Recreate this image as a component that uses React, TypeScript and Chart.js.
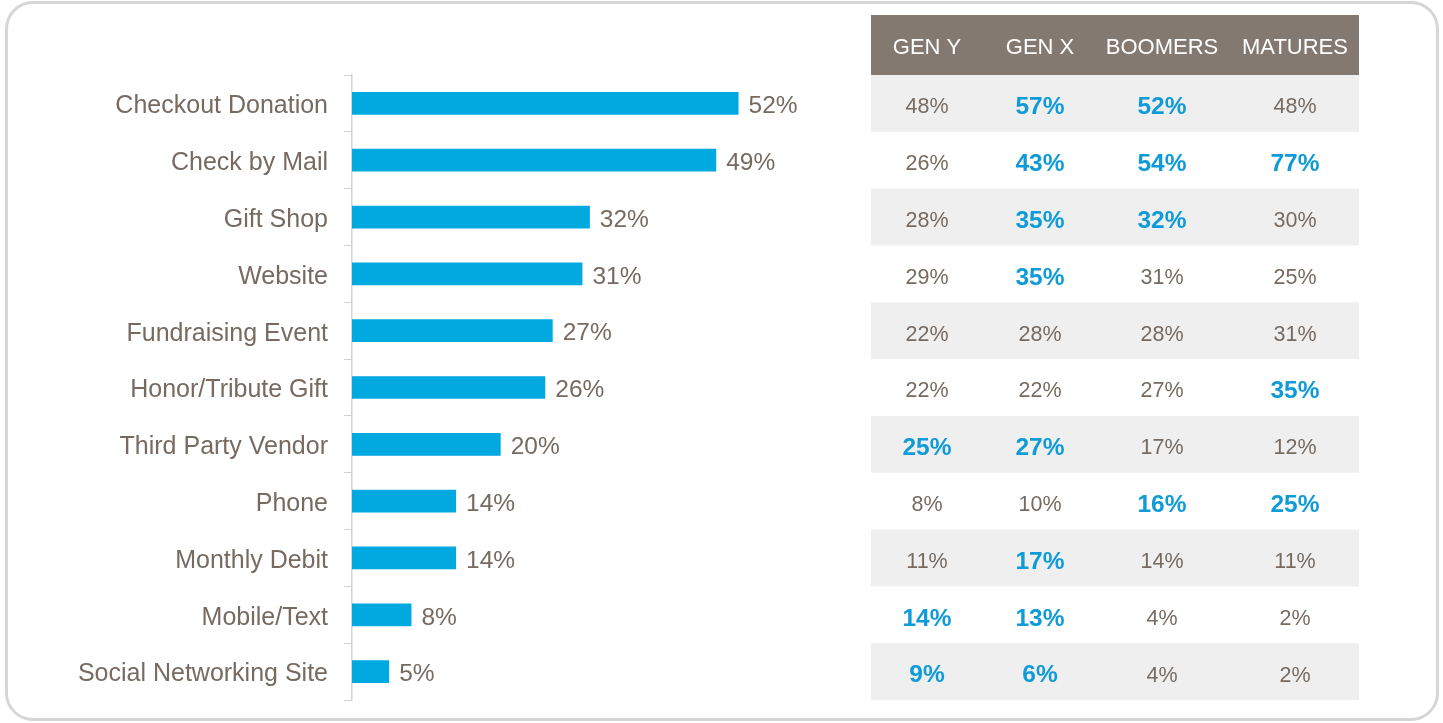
import React, { useEffect, useRef } from "react";
import { Chart, registerables } from "chart.js";

Chart.register(...registerables);

const categories = [
  "Checkout Donation",
  "Check by Mail",
  "Gift Shop",
  "Website",
  "Fundraising Event",
  "Honor/Tribute Gift",
  "Third Party Vendor",
  "Phone",
  "Monthly Debit",
  "Mobile/Text",
  "Social Networking Site",
];
const totalValues = [52, 49, 32, 31, 27, 26, 20, 14, 14, 8, 5];

const tableHeaders = ["GEN Y", "GEN X", "BOOMERS", "MATURES"];
const genY = [48, 26, 28, 29, 22, 22, 25, 8, 11, 14, 9];
const genX = [57, 43, 35, 35, 28, 22, 27, 10, 17, 13, 6];
const boomers = [52, 54, 32, 31, 28, 27, 17, 16, 14, 4, 4];
const matures = [48, 77, 30, 25, 31, 35, 12, 25, 11, 2, 2];
const genYHighlight = [0, 0, 0, 0, 0, 0, 1, 0, 0, 1, 1];
const genXHighlight = [1, 1, 1, 1, 0, 0, 1, 0, 1, 1, 1];
const boomersHighlight = [1, 1, 1, 0, 0, 0, 0, 1, 0, 0, 0];
const maturesHighlight = [0, 1, 0, 0, 0, 1, 0, 1, 0, 0, 0];

const FONT = "'Liberation Sans', Arial, Helvetica, sans-serif";
const TEXT = "#766a61";
const BLUE = "#0f9bd8";
const BAR = "#00a9e0";

export default function App() {
  const ref = useRef<HTMLCanvasElement | null>(null);

  useEffect(() => {
    const canvas = ref.current;
    if (!canvas) return;

    const tableCols = [genY, genX, boomers, matures];
    const tableHl = [genYHighlight, genXHighlight, boomersHighlight, maturesHighlight];
    const colCenters = [927, 1040, 1162, 1295];
    const tableLeft = 871;
    const tableRight = 1359;
    const headerTop = 15;

    const valueLabels = {
      id: "valueLabels",
      afterDatasetsDraw(chart: any) {
        const ctx = chart.ctx;
        const meta = chart.getDatasetMeta(0);
        ctx.save();
        ctx.font = `24.5px ${FONT}`;
        ctx.fillStyle = TEXT;
        ctx.textAlign = "left";
        ctx.textBaseline = "middle";
        meta.data.forEach((bar: any, i: number) => {
          ctx.fillText(`${totalValues[i]}%`, bar.x + 10, bar.y + 3);
        });
        ctx.restore();
      },
    };

    const tablePlugin = {
      id: "sideTable",
      afterDraw(chart: any) {
        const ctx = chart.ctx;
        const y = chart.scales.y;
        const n = categories.length;
        const band = (y.bottom - y.top) / n;
        ctx.save();
        // header
        ctx.fillStyle = "#837970";
        ctx.fillRect(tableLeft, headerTop, tableRight - tableLeft, y.top - headerTop);
        ctx.fillStyle = "#ffffff";
        ctx.font = `22px ${FONT}`;
        ctx.textAlign = "center";
        ctx.textBaseline = "middle";
        tableHeaders.forEach((h, c) => {
          ctx.fillText(h, colCenters[c], (headerTop + y.top) / 2 + 3);
        });
        for (let i = 0; i < n; i++) {
          const cy = y.getPixelForValue(i);
          if (i % 2 === 0) {
            ctx.fillStyle = "#efefef";
            ctx.fillRect(tableLeft, cy - band / 2, tableRight - tableLeft, band);
          }
          for (let c = 0; c < tableCols.length; c++) {
            const hl = tableHl[c][i] === 1;
            ctx.fillStyle = hl ? BLUE : TEXT;
            ctx.font = hl ? `bold 24.5px ${FONT}` : `21.5px ${FONT}`;
            ctx.fillText(`${tableCols[c][i]}%`, colCenters[c], cy + 4);
          }
        }
        ctx.restore();
      },
    };

    const chart = new Chart(canvas, {
      type: "bar",
      data: {
        labels: categories,
        datasets: [
          {
            data: totalValues,
            backgroundColor: BAR,
            borderWidth: 0,
            barPercentage: 0.4,
            categoryPercentage: 1,
          },
        ],
      },
      options: {
        indexAxis: "y",
        responsive: false,
        animation: false,
        layout: { padding: { top: 75, bottom: 23, left: 0, right: 645 } },
        plugins: {
          legend: { display: false },
          title: { display: false },
          tooltip: { enabled: false },
        },
        scales: {
          x: {
            display: false,
            min: 0,
            max: 60,
          },
          y: {
            afterFit(scale: any) {
              scale.width = 352;
              scale.paddingTop = 0;
              scale.paddingBottom = 0;
            },
            grid: {
              display: true,
              drawOnChartArea: false,
              drawTicks: true,
              tickLength: 8,
              color: "#d3d3d3",
              offset: true,
            },
            border: { display: true, color: "#d3d3d3", width: 1.5 },
            ticks: {
              color: TEXT,
              padding: 16,
              labelOffset: 3,
              font: { family: FONT, size: 25 },
            },
          },
        },
      },
      plugins: [valueLabels, tablePlugin],
    });

    return () => chart.destroy();
  }, []);

  return (
    <div
      style={{
        position: "fixed",
        left: 0,
        top: 0,
        width: 1443,
        height: 723,
        background: "#ffffff",
      }}
    >
      <div
        style={{
          position: "absolute",
          left: 5,
          top: 1,
          width: 1434,
          height: 720,
          boxSizing: "border-box",
          border: "3px solid #d6d6d6",
          borderRadius: 28,
        }}
      />
      <canvas
        ref={ref}
        width={1443}
        height={723}
        style={{ position: "absolute", left: 0, top: 0, width: 1443, height: 723 }}
      />
    </div>
  );
}
